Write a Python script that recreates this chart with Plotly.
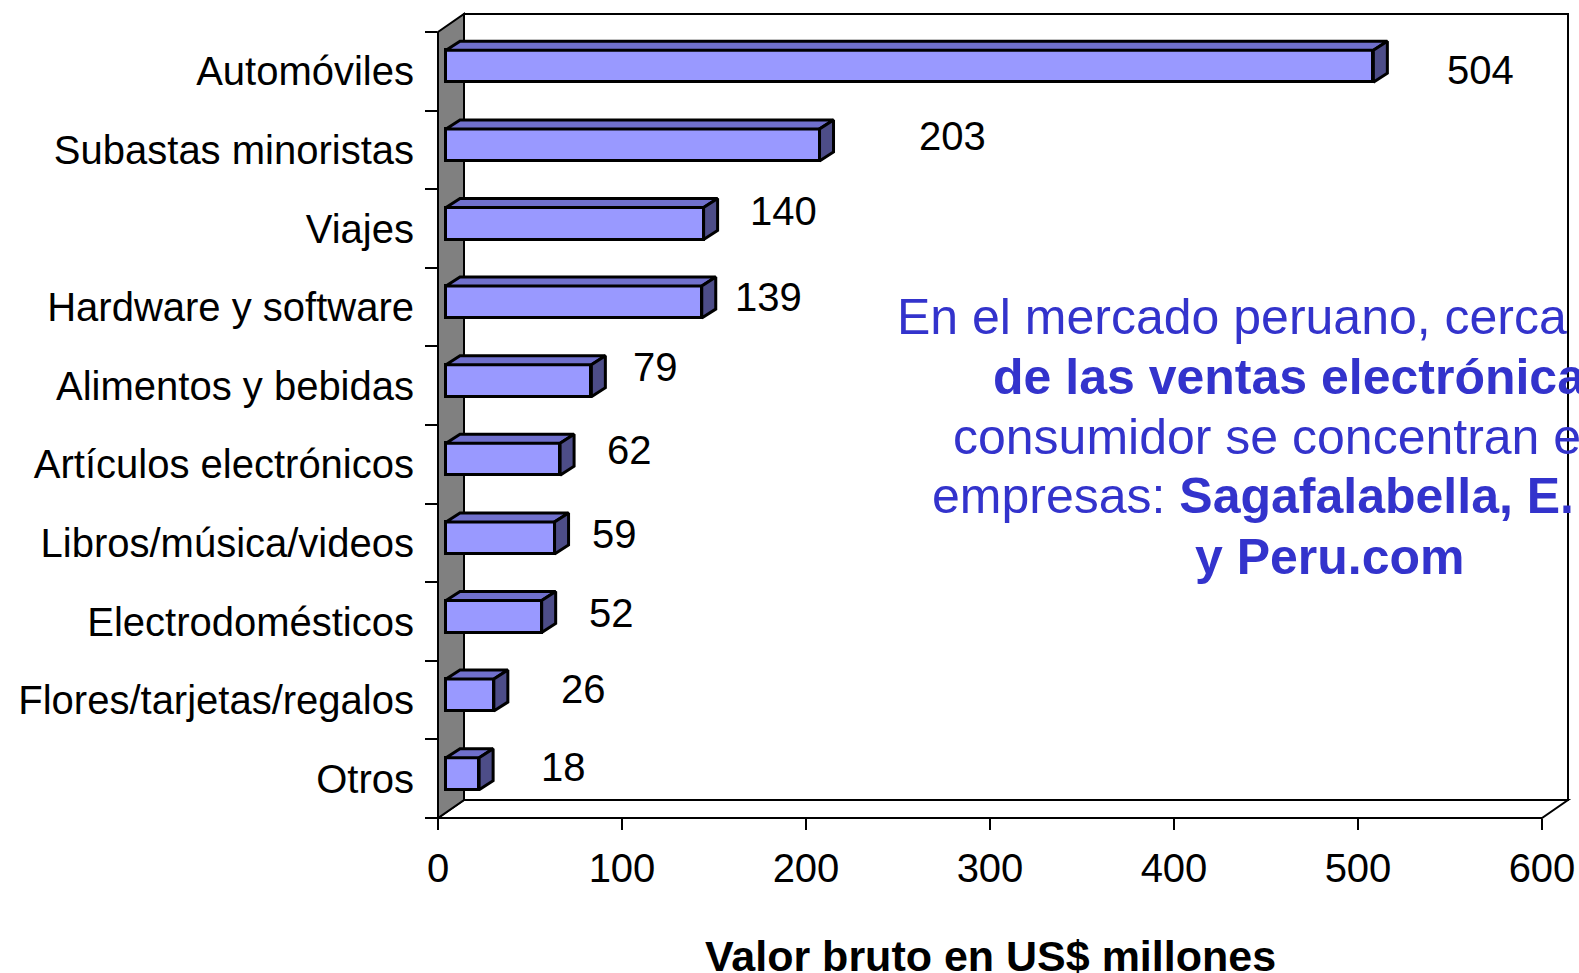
import plotly.graph_objects as go

# ---------------- data ----------------
categories = ["Automóviles", "Subastas minoristas", "Viajes", "Hardware y software",
              "Alimentos y bebidas", "Artículos electrónicos", "Libros/música/videos",
              "Electrodomésticos", "Flores/tarjetas/regalos", "Otros"]
values = [504, 203, 140, 139, 79, 62, 59, 52, 26, 18]
x_tick_values = [0, 100, 200, 300, 400, 500, 600]
axis_title = "Valor bruto en US$ millones"
note_lines = [
    "En el mercado peruano, cerca d",
    "<b>de las ventas electrónicas</b>",
    "consumidor se concentran e",
    "empresas: <b>Sagafalabella, E.</b>",
    "<b>y Peru.com</b>",
]

# ---------------- style / layout constants ----------------
W, H = 1579, 973
ML, MR, MT, MB = 438, 5, 10, 155
PX_X = 1.84          # px per value unit
PX_Y = 78.6          # px per category band
plot_w = W - ML - MR
plot_h = H - MT - MB
xr = [0, plot_w / PX_X]
yr = [-0.5, -0.5 + plot_h / PX_Y]

FONT = "Liberation Sans, Arial, sans-serif"
FRONT = "#9999FF"
TOP = "#7070CC"
SIDE = "#4D4D88"
WALL = "#808080"
BLUE = "#3333CC"

BAR_SHIFT = 8 / PX_X          # bar front face offset from wall front edge
BAR_DX = 14 / PX_X            # bar depth (x)
BAR_DY = 9 / PX_Y             # bar depth (y)
BAR_W = 0.407
BAR_OFF = -0.14
WALL_DX = 26 / PX_X
WALL_DY = 18 / PX_Y

label_dx = [107, 133, 80, 67, 64, 69, 60, 70, 90, 84]
label_dy = [1, 14, 18, 10, 19, 14, 9, 9, 11, 12]

n = len(categories)
pos = [n - 1 - i for i in range(n)]


def xp(x):
    return (x - xr[0]) / (xr[1] - xr[0])


def yp(y):
    return (y - yr[0]) / (yr[1] - yr[0])


def px2xp(px):
    return (px - ML) / plot_w


def py2yp(py):
    return (H - MB - py) / plot_h


fig = go.Figure()

# top and side faces
top_x, top_y, side_x, side_y = [], [], [], []
for v, p in zip(values, pos):
    xs = BAR_SHIFT
    xe = BAR_SHIFT + v
    yb = p + BAR_OFF
    yt = yb + BAR_W
    top_x += [xs, xe, xe + BAR_DX, xs + BAR_DX, xs, None]
    top_y += [yt, yt, yt + BAR_DY, yt + BAR_DY, yt, None]
    side_x += [xe, xe, xe + BAR_DX, xe + BAR_DX, xe, None]
    side_y += [yb, yt, yt + BAR_DY, yb + BAR_DY, yb, None]

fig.add_trace(go.Scatter(x=top_x, y=top_y, mode="lines", fill="toself",
                         fillcolor=TOP, line=dict(color="black", width=3),
                         hoverinfo="skip", showlegend=False))
fig.add_trace(go.Scatter(x=side_x, y=side_y, mode="lines", fill="toself",
                         fillcolor=SIDE, line=dict(color="black", width=3),
                         hoverinfo="skip", showlegend=False))
fig.add_trace(go.Bar(x=values, y=pos, orientation="h", base=BAR_SHIFT,
                     width=BAR_W, offset=BAR_OFF,
                     marker=dict(color=FRONT, line=dict(color="black", width=3)),
                     showlegend=False))

# frame (walls & floor)
x0, x1 = 0, 600
yb0, yt0 = -0.5, 9.5
shapes = []
shapes.append(dict(type="rect", xref="paper", yref="paper",
                   x0=xp(x0 + WALL_DX), x1=xp(x1 + WALL_DX),
                   y0=yp(yb0 + WALL_DY), y1=yp(yt0 + WALL_DY),
                   line=dict(color="black", width=2), fillcolor="white", layer="below"))
shapes.append(dict(type="path", xref="paper", yref="paper",
                   path=f"M{xp(x0)},{yp(yb0)} L{xp(x1)},{yp(yb0)} L{xp(x1 + WALL_DX)},{yp(yb0 + WALL_DY)} "
                        f"L{xp(x0 + WALL_DX)},{yp(yb0 + WALL_DY)} Z",
                   line=dict(color="black", width=2), fillcolor="white", layer="below"))
shapes.append(dict(type="path", xref="paper", yref="paper",
                   path=f"M{xp(x0)},{yp(yb0)} L{xp(x0)},{yp(yt0)} L{xp(x0 + WALL_DX)},{yp(yt0 + WALL_DY)} "
                        f"L{xp(x0 + WALL_DX)},{yp(yb0 + WALL_DY)} Z",
                   line=dict(color="black", width=2), fillcolor=WALL, layer="below"))

annotations = []
for v, p, dx, dy in zip(values, pos, label_dx, label_dy):
    annotations.append(dict(x=BAR_SHIFT + v, y=p, xref="x", yref="y", text=str(v),
                            showarrow=False, xanchor="center", yanchor="middle",
                            xshift=dx, yshift=dy,
                            font=dict(family=FONT, size=40, color="black")))

note_x = [895, 991, 951, 930, 1193]
note_y = [317, 377, 437, 496, 557]
for t, nx, ny in zip(note_lines, note_x, note_y):
    annotations.append(dict(x=px2xp(nx), y=py2yp(ny), xref="paper", yref="paper", text=t,
                            showarrow=False, xanchor="left", yanchor="middle",
                            font=dict(family=FONT, size=50, color=BLUE)))

annotations.append(dict(x=px2xp(990), y=py2yp(956), xref="paper", yref="paper",
                        text=f"<b>{axis_title}</b>", showarrow=False,
                        xanchor="center", yanchor="middle",
                        font=dict(family=FONT, size=43, color="black")))

fig.update_layout(
    width=W, height=H,
    margin=dict(l=ML, r=MR, t=MT, b=MB, pad=0, autoexpand=False),
    paper_bgcolor="white", plot_bgcolor="rgba(0,0,0,0)",
    shapes=shapes, annotations=annotations,
    bargap=0,
    xaxis=dict(range=xr, tickvals=x_tick_values, ticktext=[str(v) for v in x_tick_values],
               ticks="outside", ticklen=11, tickwidth=2, tickcolor="black",
               ticklabelstandoff=4,
               showgrid=False, zeroline=False, showline=False, automargin=False,
               tickfont=dict(family=FONT, size=40, color="black"), fixedrange=True),
    yaxis=dict(range=yr, tickvals=pos, ticktext=categories,
               ticks="outside", ticklen=0, tickcolor="rgba(0,0,0,0)",
               minor=dict(tickvals=[i - 0.5 for i in range(n + 1)], ticks="outside",
                          ticklen=12, tickwidth=2, tickcolor="black", showgrid=False),
               ticklabelstandoff=15, automargin=False,
               showgrid=False, zeroline=False, showline=False,
               tickfont=dict(family=FONT, size=40, color="black"), fixedrange=True),
)

fig.write_html("out.html", config={"displayModeBar": False},
               post_script="document.body.style.margin='0';")
